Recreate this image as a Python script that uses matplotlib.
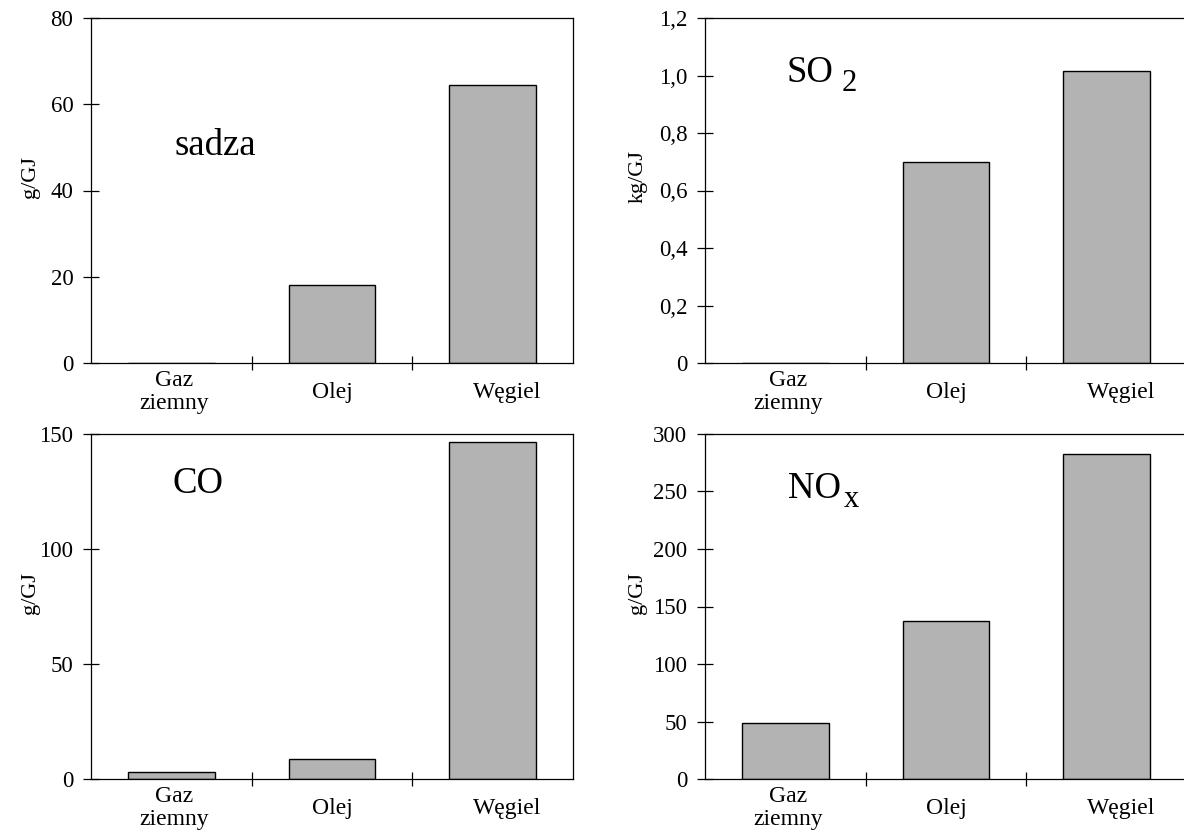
import numpy as np
import matplotlib
matplotlib.use("Agg")
import matplotlib.pyplot as plt
from matplotlib.ticker import FuncFormatter, FixedLocator
from matplotlib.transforms import offset_copy

plt.rcParams['font.family'] = ['Liberation Serif', 'DejaVu Serif']

# data
fuels = ['Gaz\nziemny', 'Olej', 'Węgiel']
soot = [0, 18, 64.5]          # g/GJ
so2 = [0, 0.70, 1.015]        # kg/GJ
co = [3, 8.7, 146.5]          # g/GJ
nox = [49, 137, 283]          # g/GJ

soot_ticks = [0, 20, 40, 60, 80]
so2_ticks = [0, 0.2, 0.4, 0.6, 0.8, 1.0, 1.2]
co_ticks = [0, 50, 100, 150]
nox_ticks = [0, 50, 100, 150, 200, 250, 300]

# small horizontal nudge of category labels (points), as in the original
label_dx = [2, 0, 10.5]

fig = plt.figure(figsize=(11.84, 8.36), dpi=100)

W = 482 / 1184
H = 345 / 836
panels = [
    # left, bottom, values, ticks, unit, name, subscript, name pos, label x
    (91 / 1184, 1 - 363 / 836, soot, soot_ticks, 'g/GJ', 'sadza', None, (0.257, 0.63), -0.105),
    (705 / 1184, 1 - 363 / 836, so2, so2_ticks, 'kg/GJ', 'SO', '2', (0.218, 0.84), -0.12),
    (91 / 1184, 1 - 779 / 836, co, co_ticks, 'g/GJ', 'CO', None, (0.222, 0.855), -0.105),
    (705 / 1184, 1 - 779 / 836, nox, nox_ticks, 'g/GJ', 'NO', 'x', (0.228, 0.84), -0.12),
]

x = np.arange(len(fuels))

for left, bottom, vals, yt, unit, name, sub, pos, lx in panels:
    ax = fig.add_axes([left, bottom, W, H])
    ax.bar(x, vals, width=0.54, color='#b3b3b3', edgecolor='black', linewidth=1.0, zorder=2)
    ax.set_xlim(-0.5, 2.5)
    ax.set_ylim(yt[0], yt[-1])

    for s in ax.spines.values():
        s.set_linewidth(0.9)
        s.set_color('black')

    # y axis
    ax.yaxis.set_major_locator(FixedLocator(yt))
    if unit == 'kg/GJ':
        ax.yaxis.set_major_formatter(FuncFormatter(
            lambda v, p: '0' if v == 0 else f'{v:.1f}'.replace('.', ',')))
    ax.tick_params(axis='y', direction='inout', length=11.5, width=0.9,
                   pad=7, labelsize=16.5)

    # x axis: separator ticks between categories, labels under each bar
    ax.set_xticks([])
    ax.set_xticks([0.5, 1.5], minor=True)
    ax.tick_params(axis='x', which='minor', direction='inout', length=10, width=0.9)
    for xi, lab, dx in zip(x, fuels, label_dx):
        ax.annotate(lab, xy=(xi, 0), xycoords=('data', 'axes fraction'),
                    xytext=(dx, -21), textcoords='offset points',
                    ha='center', va='center', fontsize=17, linespacing=1.15,
                    annotation_clip=False)

    ax.set_ylabel(unit, fontsize=16)
    ax.yaxis.set_label_coords(lx, 0.54)

    t = ax.text(pos[0], pos[1], name, transform=ax.transAxes, fontsize=26.5,
                ha='center', va='center')
    if sub is not None:
        fig.canvas.draw()
        bb = t.get_window_extent()
        x1 = ax.transAxes.inverted().transform((bb.x1, 0))[0]
        gap = 6 if sub == '2' else 1.5
        tr = offset_copy(ax.transAxes, fig=fig, x=gap, y=-7.5, units='points')
        ax.text(x1, pos[1], sub, transform=tr, fontsize=22, ha='left', va='center')

fig.savefig('out.png', dpi=100)
